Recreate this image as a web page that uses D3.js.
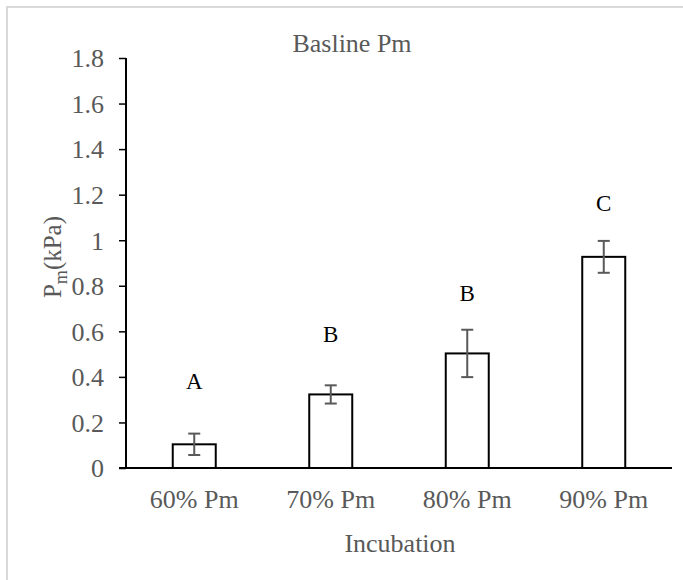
<!DOCTYPE html>
<html>
<head>
<meta charset="utf-8">
<script src="https://cdn.jsdelivr.net/npm/d3@7"></script>
<style>
  body { margin: 0; background: #fff; }
  text { font-family: "Liberation Serif", "Times New Roman", serif; }
</style>
</head>
<body>
<div id="chart"></div>
<script>
// chart data
const categories = ["60% Pm", "70% Pm", "80% Pm", "90% Pm"];
const means = [0.104, 0.323, 0.503, 0.927];
const errors = [0.047, 0.040, 0.104, 0.070];
const letters = ["A", "B", "B", "C"];
const letterAt = [0.38, 0.59, 0.77, 1.165];
const yTicks = [0, 0.2, 0.4, 0.6, 0.8, 1, 1.2, 1.4, 1.6, 1.8];

const svgWidth = 683;
const svgHeight = 580;

const margin = { top: 58, right: 11, bottom: 112, left: 126 };
const width = svgWidth - margin.left - margin.right;
const height = svgHeight - margin.top - margin.bottom;

const svg = d3.select("#chart")
  .append("svg")
  .attr("width", svgWidth)
  .attr("height", svgHeight);

// outer frame (only top/left visible)
svg.append("rect")
  .attr("x", 7)
  .attr("y", 7)
  .attr("width", svgWidth + 10)
  .attr("height", svgHeight + 10)
  .attr("fill", "none")
  .attr("stroke", "#d9d9d9")
  .attr("stroke-width", 2);

const chartGroup = svg.append("g")
  .attr("transform", `translate(${margin.left}, ${margin.top})`);

const xScale = d3.scaleBand()
  .domain(categories)
  .range([0, width])
  .paddingInner(0.685)
  .paddingOuter(0.3425);

const yScale = d3.scaleLinear()
  .domain([0, 1.8])
  .range([height, 0]);

// y axis
const leftAxis = d3.axisLeft(yScale)
  .tickValues(yTicks)
  .tickSize(7)
  .tickPadding(15)
  .tickFormat(d => d3.format("")(+d.toFixed(1)));

const yAxis = chartGroup.append("g").call(leftAxis);
yAxis.select(".domain").attr("stroke", "#000").attr("stroke-width", 2).attr("d", `M0,0V${height}`);
yAxis.selectAll(".tick line").attr("stroke", "#000").attr("stroke-width", 1.5);
yAxis.selectAll(".tick text")
  .attr("fill", "#595959")
  .style("font-size", "26px")
  .attr("dy", "0.34em");

// x axis
const bottomAxis = d3.axisBottom(xScale).tickSize(0).tickPadding(22);
const xAxis = chartGroup.append("g")
  .attr("transform", `translate(0, ${height})`)
  .call(bottomAxis);
xAxis.select(".domain").attr("stroke", "#000").attr("stroke-width", 2).attr("d", `M-7,0H${width}`);
xAxis.selectAll(".tick text")
  .attr("fill", "#595959")
  .style("font-size", "26px")
  .style("white-space", "pre");

// bars
chartGroup.selectAll(".bar")
  .data(means)
  .enter()
  .append("rect")
  .attr("class", "bar")
  .attr("x", (d, i) => xScale(categories[i]))
  .attr("y", d => yScale(d))
  .attr("width", xScale.bandwidth())
  .attr("height", d => height - yScale(d))
  .attr("fill", "#fff")
  .attr("stroke", "#000")
  .attr("stroke-width", 2);

// error bars
const errGroup = chartGroup.selectAll(".err")
  .data(means)
  .enter()
  .append("g")
  .attr("class", "err")
  .attr("stroke", "#595959")
  .attr("stroke-width", 2);

const cx = i => xScale(categories[i]) + xScale.bandwidth() / 2;

errGroup.append("line")
  .attr("x1", (d, i) => cx(i))
  .attr("x2", (d, i) => cx(i))
  .attr("y1", (d, i) => yScale(d + errors[i]))
  .attr("y2", (d, i) => yScale(d - errors[i]));

[1, -1].forEach(sign => {
  errGroup.append("line")
    .attr("x1", (d, i) => cx(i) - 6)
    .attr("x2", (d, i) => cx(i) + 6)
    .attr("y1", (d, i) => yScale(d + sign * errors[i]))
    .attr("y2", (d, i) => yScale(d + sign * errors[i]));
});

// significance letters
chartGroup.selectAll(".letter")
  .data(letters)
  .enter()
  .append("text")
  .attr("class", "letter")
  .attr("x", (d, i) => cx(i))
  .attr("y", (d, i) => yScale(letterAt[i]))
  .attr("dy", "0.35em")
  .attr("text-anchor", "middle")
  .attr("fill", "#000")
  .style("font-size", "23px")
  .text(d => d);

// title
svg.append("text")
  .attr("x", 352)
  .attr("y", 52)
  .attr("text-anchor", "middle")
  .attr("fill", "#595959")
  .style("font-size", "26px")
  .text("Basline Pm");

// x axis title
svg.append("text")
  .attr("x", 400)
  .attr("y", 552)
  .attr("text-anchor", "middle")
  .attr("fill", "#595959")
  .style("font-size", "26px")
  .text("Incubation");

// y axis title with subscript
const yTitle = svg.append("text")
  .attr("transform", "translate(61, 257) rotate(-90)")
  .attr("text-anchor", "middle")
  .attr("fill", "#595959")
  .style("font-size", "25px");
yTitle.append("tspan").text("P");
yTitle.append("tspan").attr("dy", 6).style("font-size", "18px").text("m");
yTitle.append("tspan").attr("dy", -6).text("(kPa)");
</script>
</body>
</html>
